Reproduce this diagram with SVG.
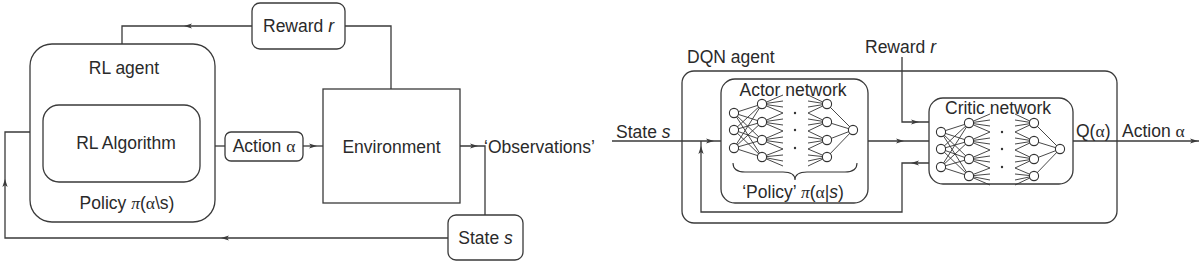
<svg xmlns="http://www.w3.org/2000/svg" xmlns:xlink="http://www.w3.org/1999/xlink" width="1200" height="264" viewBox="0 0 1200 264">
<style>
.box{fill:none;stroke:#3a3a3a;stroke-width:1.3}
.ln{fill:none;stroke:#3a3a3a;stroke-width:1.3}
.nl{fill:none;stroke:#333;stroke-width:0.9}
.nd{fill:#fff;stroke:#333;stroke-width:1.1}
.t{font-family:"Liberation Sans",Arial,sans-serif;font-size:17.5px;fill:#2a2a2a}
.m{text-anchor:middle}
.g{font-family:"Liberation Serif","Times New Roman",serif}
.i{font-style:italic}
.ah{fill:#3a3a3a}
</style>
<defs>
<path id="ah" class="ah" d="M-4,-2.6 L4,0 L-4,2.6 L-2,0 Z"/>
<g id="net">
<g class="nl">
<path d="M734,113L762,104M734,113L762,122M734,113L762,140M734,113L762,157M734,130L762,104M734,130L762,122M734,130L762,140M734,130L762,157M734,148L762,104M734,148L762,122M734,148L762,140M734,148L762,157"/>
<path d="M762,104L783,95M762,104L783,101M762,104L783,107M762,104L783,113M762,122L783,113M762,122L783,119M762,122L783,125M762,122L783,131M762,140L783,131M762,140L783,137M762,140L783,143M762,140L783,149M762,157L783,149M762,157L783,155M762,157L783,161M762,157L783,166"/>
<path d="M827,104L808,95M827,104L808,101M827,104L808,107M827,104L808,113M827,122L808,113M827,122L808,119M827,122L808,125M827,122L808,131M827,140L808,131M827,140L808,137M827,140L808,143M827,140L808,149M827,157L808,149M827,157L808,155M827,157L808,161M827,157L808,166"/>
<path d="M827,104L853,130M827,122L853,130M827,140L853,130M827,157L853,130"/>
</g>
<g fill="#333"><circle cx="795" cy="113" r="1.2"/><circle cx="795" cy="130" r="1.2"/><circle cx="795" cy="148" r="1.2"/></g>
<g class="nd">
<circle cx="734" cy="113" r="4.6"/><circle cx="734" cy="130" r="4.6"/><circle cx="734" cy="148" r="4.6"/>
<circle cx="762" cy="104" r="4.6"/><circle cx="762" cy="122" r="4.6"/><circle cx="762" cy="140" r="4.6"/><circle cx="762" cy="157" r="4.6"/>
<circle cx="827" cy="104" r="4.6"/><circle cx="827" cy="122" r="4.6"/><circle cx="827" cy="140" r="4.6"/><circle cx="827" cy="157" r="4.6"/>
<circle cx="853" cy="130" r="4.6"/>
</g>
</g>
</defs>

<g id="connectors">
<path class="ln" d="M252,26H122V44"/>
<use xlink:href="#ah" transform="translate(188,26) rotate(180)"/>
<path class="ln" d="M391,89V26H345"/>
<path class="ln" d="M215,146H225"/>
<path class="ln" d="M303,146H323"/>
<use xlink:href="#ah" transform="translate(313,146)"/>
<path class="ln" d="M460,146H485V215"/>
<use xlink:href="#ah" transform="translate(474,146)"/>
<path class="ln" d="M448,238H5V132H30"/>
<use xlink:href="#ah" transform="translate(225,238) rotate(180)"/>
<use xlink:href="#ah" transform="translate(5,183) rotate(-90)"/>

<path class="ln" d="M612,141H721"/>
<use xlink:href="#ah" transform="translate(710,141)"/>
<path class="ln" d="M929,163H902V212H701V141"/>
<use xlink:href="#ah" transform="translate(915,163) rotate(180)"/>
<use xlink:href="#ah" transform="translate(701,150) rotate(-90)"/>
<path class="ln" d="M902,57V122H929"/>
<use xlink:href="#ah" transform="translate(915,122)"/>
<path class="ln" d="M868,141H929"/>
<use xlink:href="#ah" transform="translate(900,141)"/>
<path class="ln" d="M1073,141H1199"/>
<use xlink:href="#ah" transform="translate(1194,141)"/>
</g>

<g id="reward-left">
<rect class="box" x="252" y="3" width="93" height="46" rx="8"/>
<text class="t m" x="298.5" y="32">Reward <tspan class="i">r</tspan></text>
</g>
<g id="rl-agent">
<rect class="box" x="30" y="44" width="185" height="178" rx="22"/>
<text class="t m" x="124" y="74">RL agent</text>
<text class="t m" x="127" y="209">Policy <tspan class="g i">π</tspan>(<tspan class="g">α</tspan>\s)</text>
</g>
<g id="rl-algorithm">
<rect class="box" x="43" y="105" width="157" height="77" rx="16"/>
<text class="t m" x="126" y="149">RL Algorithm</text>
</g>
<g id="action-left">
<rect class="box" x="225" y="132" width="78" height="29" rx="6"/>
<text class="t m" x="264" y="152">Action <tspan class="g">α</tspan></text>
</g>
<g id="environment">
<rect class="box" x="323" y="89" width="137" height="114"/>
<text class="t m" x="391.5" y="153">Environment</text>
</g>
<g id="observations">
<text class="t" x="484" y="153">‘Observations’</text>
</g>
<g id="state-left">
<rect class="box" x="448" y="215" width="75" height="45" rx="8"/>
<text class="t m" x="485.5" y="244">State <tspan class="i">s</tspan></text>
</g>

<g id="dqn-agent">
<rect class="box" x="682" y="71" width="435" height="152" rx="12"/>
<text class="t" x="687" y="63">DQN agent</text>
</g>
<g id="reward-right">
<text class="t" x="865" y="53">Reward <tspan class="i">r</tspan></text>
</g>
<g id="state-right">
<text class="t" x="616" y="138">State <tspan class="i">s</tspan></text>
</g>
<g id="actor">
<rect class="box" x="721" y="79" width="147" height="124" rx="14"/>
<text class="t m" x="793" y="96">Actor network</text>
<use xlink:href="#net"/>
<path class="nl" style="stroke-width:1.1" d="M733,163Q733,172 745,172L783,172Q795,172 795,180Q795,172 807,172L845,172Q857,172 857,163"/>
<text class="t m" x="793" y="198">‘Policy’ <tspan class="g i">π</tspan>(<tspan class="g">α</tspan>|<tspan class="i">s</tspan>)</text>
</g>
<g id="critic">
<rect class="box" x="929" y="98" width="144" height="86" rx="14"/>
<text class="t m" x="998" y="114">Critic network</text>
<use xlink:href="#net" transform="translate(207,19)"/>
</g>
<g id="output-labels">
<text class="t" x="1076" y="137">Q(<tspan class="g">α</tspan>)</text>
<text class="t" x="1122" y="137">Action <tspan class="g">α</tspan></text>
</g>
</svg>
